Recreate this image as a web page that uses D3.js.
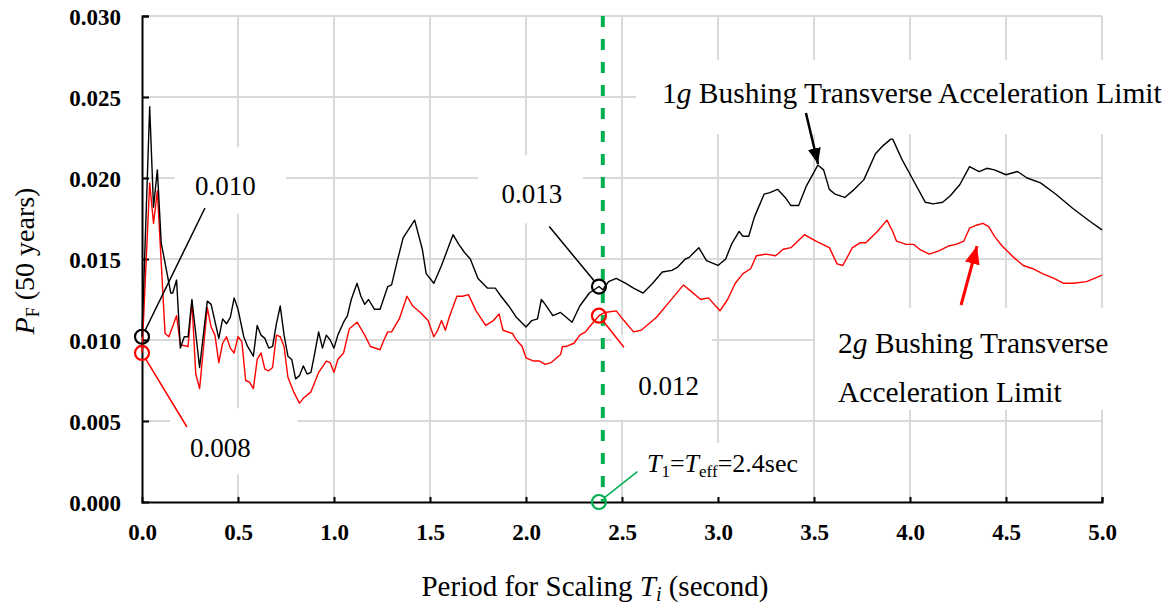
<!DOCTYPE html>
<html>
<head>
<meta charset="utf-8">
<script src="https://cdn.jsdelivr.net/npm/d3@7"></script>
<style>
  body { margin: 0; background: #fff; }
  svg { display: block; }
  svg text { font-family: "Liberation Serif", "Times New Roman", Times, "DejaVu Serif", serif !important; }
</style>
</head>
<body>
<svg id="chart" width="1169" height="610"></svg>
<script>
// Probability of failure in 50 years vs. scaling period, 1g bushing limit
const periods1g = [0.00,0.04,0.06,0.08,0.10,0.15,0.16,0.18,0.20,0.22,0.24,0.26,0.30,0.34,0.36,0.40,0.42,0.44,0.46,0.48,
  0.50,0.53,0.55,0.56,0.58,0.60,0.62,0.64,0.66,0.68,0.70,0.72,0.74,0.76,0.78,0.80,0.82,0.84,0.86,0.88,
  0.90,0.92,0.94,0.96,0.98,1.00,1.02,1.05,1.07,1.09,1.12,1.14,1.16,1.18,1.21,1.24,1.28,1.30,1.33,1.36,
  1.42,1.46,1.48,1.52,1.56,1.62,1.65,1.68,1.71,1.75,1.80,1.84,1.87,1.91,1.95,2.00,2.03,2.06,2.08,2.10,
  2.14,2.18,2.20,2.24,2.28,2.33,2.38,2.40,2.43,2.47,2.52,2.56,2.61,2.66,2.71,2.76,2.79,2.83,2.85,2.90,
  2.94,3.00,3.04,3.07,3.11,3.13,3.16,3.19,3.24,3.27,3.31,3.35,3.38,3.42,3.46,3.52,3.55,3.58,3.61,3.66,
  3.71,3.76,3.82,3.86,3.90,3.91,3.96,4.02,4.08,4.12,4.17,4.21,4.26,4.31,4.36,4.40,4.44,4.50,4.56,4.61,
  4.68,4.76,4.85,4.94,5.00];
const pf1g = [0.0102,0.0244,0.0182,0.0205,0.0160,0.0129,0.0129,0.0137,0.0095,0.0102,0.0102,0.0125,0.0083,0.0124,0.0122,0.0101,0.0113,0.0110,0.0114,0.0126,
  0.0119,0.0102,0.0096,0.0094,0.0090,0.0109,0.0103,0.0101,0.0095,0.0096,0.0110,0.0121,0.0103,0.0090,0.0088,0.0076,0.0078,0.0084,0.0079,0.0080,
  0.0092,0.0105,0.0095,0.0103,0.0100,0.0095,0.0103,0.0111,0.0115,0.0125,0.0135,0.0127,0.0122,0.0125,0.0119,0.0119,0.0133,0.0134,0.0149,0.0163,
  0.0174,0.0156,0.0141,0.0135,0.0146,0.0165,0.0159,0.0154,0.0150,0.0138,0.0132,0.0132,0.0127,0.0121,0.0114,0.0108,0.0112,0.0113,0.0125,0.0122,
  0.0115,0.0117,0.0115,0.0111,0.0121,0.0129,0.0133,0.0131,0.0136,0.0138,0.0135,0.0132,0.0129,0.0135,0.0142,0.0143,0.0145,0.0150,0.0151,0.0157,
  0.0149,0.0146,0.0150,0.0159,0.0167,0.0164,0.0164,0.0176,0.0190,0.0191,0.0193,0.0188,0.0183,0.0183,0.0195,0.0208,0.0205,0.0193,0.0190,0.0188,
  0.0193,0.0199,0.0215,0.0220,0.0224,0.0224,0.0211,0.0198,0.0185,0.0184,0.0185,0.0189,0.0196,0.0207,0.0204,0.0206,0.0205,0.0202,0.0204,0.0200,
  0.0197,0.0190,0.0181,0.0173,0.0168];

// Same quantity for the 2g bushing limit
const periods2g = [0.00,0.04,0.06,0.08,0.12,0.14,0.18,0.20,0.24,0.26,0.28,0.30,0.34,0.36,0.38,0.40,0.42,0.44,0.46,0.48,
  0.50,0.52,0.54,0.56,0.58,0.60,0.62,0.64,0.66,0.68,0.70,0.72,0.74,0.76,0.79,0.82,0.84,0.88,0.92,0.96,
  0.98,1.00,1.02,1.05,1.08,1.12,1.16,1.19,1.24,1.26,1.28,1.30,1.34,1.38,1.41,1.45,1.49,1.52,1.54,1.56,
  1.58,1.60,1.64,1.67,1.70,1.74,1.79,1.83,1.86,1.88,1.93,1.95,1.98,2.00,2.04,2.07,2.10,2.13,2.18,2.19,
  2.21,2.25,2.28,2.31,2.33,2.38,2.41,2.47,2.51,2.56,2.60,2.68,2.75,2.82,2.86,2.91,2.95,3.01,3.05,3.09,
  3.13,3.17,3.20,3.25,3.30,3.34,3.38,3.45,3.51,3.58,3.62,3.65,3.70,3.74,3.77,3.83,3.88,3.91,3.93,3.98,
  4.02,4.05,4.10,4.15,4.20,4.24,4.28,4.31,4.35,4.38,4.41,4.44,4.48,4.54,4.59,4.64,4.69,4.75,4.80,4.85,
  4.92,5.00];
const pf2g = [0.0092,0.0197,0.0172,0.0192,0.0104,0.0102,0.0115,0.0097,0.0096,0.0124,0.0079,0.0070,0.0120,0.0108,0.0103,0.0086,0.0098,0.0102,0.0095,0.0092,
  0.0102,0.0099,0.0075,0.0074,0.0070,0.0088,0.0092,0.0082,0.0081,0.0083,0.0103,0.0102,0.0096,0.0077,0.0068,0.0061,0.0064,0.0068,0.0080,0.0087,
  0.0086,0.0080,0.0088,0.0092,0.0107,0.0111,0.0103,0.0096,0.0094,0.0100,0.0105,0.0105,0.0113,0.0127,0.0121,0.0117,0.0112,0.0102,0.0106,0.0112,
  0.0106,0.0114,0.0127,0.0127,0.0128,0.0118,0.0109,0.0112,0.0116,0.0106,0.0104,0.0100,0.0096,0.0089,0.0087,0.0087,0.0085,0.0086,0.0091,0.0096,
  0.0096,0.0098,0.0103,0.0105,0.0108,0.0115,0.0117,0.0118,0.0112,0.0105,0.0106,0.0114,0.0124,0.0134,0.0130,0.0125,0.0126,0.0118,0.0125,0.0135,
  0.0141,0.0144,0.0152,0.0153,0.0152,0.0156,0.0157,0.0165,0.0161,0.0157,0.0147,0.0146,0.0157,0.0160,0.0160,0.0167,0.0174,0.0167,0.0161,0.0159,
  0.0159,0.0156,0.0153,0.0155,0.0158,0.0159,0.0161,0.0169,0.0171,0.0172,0.0170,0.0164,0.0158,0.0151,0.0146,0.0144,0.0141,0.0138,0.0135,0.0135,
  0.0136,0.0140];

const xTicks = [0, 0.5, 1.0, 1.5, 2.0, 2.5, 3.0, 3.5, 4.0, 4.5, 5.0];
const yTicks = [0, 0.005, 0.010, 0.015, 0.020, 0.025, 0.030];

const effectivePeriod = 2.4;      // T1 = Teff
const markedPeriod = 2.38;        // data point circled near Teff

const SERIF = "'Liberation Serif', 'Times New Roman', Times, 'DejaVu Serif', serif";

const svg = d3.select("#chart").attr("font-family", SERIF);
const x = d3.scaleLinear().domain([0, 5]).range([142, 1102]);
const y = d3.scaleLinear().domain([0, 0.03]).range([502, 16]);

const GRID = "#d9d9d9";

// gridlines
const grid = svg.append("g");
grid.selectAll(".gx").data(xTicks.slice(1)).join("line")
  .attr("x1", d => x(d)).attr("x2", d => x(d))
  .attr("y1", y(0.03)).attr("y2", y(0))
  .attr("stroke", GRID).attr("stroke-width", 2);
grid.selectAll(".gy").data(yTicks.slice(1)).join("line")
  .attr("x1", x(0)).attr("x2", x(5))
  .attr("y1", d => y(d)).attr("y2", d => y(d))
  .attr("stroke", GRID).attr("stroke-width", 2);

// text boxes with white fill that sit over the grid
function box(x0, x1, yTop, yBot) {
  svg.append("rect")
    .attr("x", x(x0)).attr("y", y(yTop))
    .attr("width", x(x1) - x(x0)).attr("height", y(yBot) - y(yTop))
    .attr("fill", "#fff");
}
box(0.17, 0.75, 0.0219, 0.0178);     // 0.010
box(0.146, 0.81, 0.0058, 0.0017);    // 0.008
box(1.75, 2.297, 0.0214, 0.0172);    // 0.013
box(2.448, 2.969, 0.0103, 0.0051);   // 0.012
box(2.573, 5.35, 0.0273, 0.0227);    // 1g label
box(3.505, 5.094, 0.0120, 0.0057);   // 2g label
box(2.594, 3.479, 0.00364, 0.0003);  // T1 label

// axes
const yAxis = d3.axisLeft(y).tickValues(yTicks).tickFormat(d3.format(".3f"))
  .tickSize(-7).tickPadding(21);
const xAxis = d3.axisBottom(x).tickValues(xTicks).tickFormat(d3.format(".1f"))
  .tickSize(-5).tickPadding(22);

const gy = svg.append("g").attr("transform", `translate(${x(0)},0)`).call(yAxis);
const gx = svg.append("g").attr("transform", `translate(0,${y(0)})`).call(xAxis);
[gx, gy].forEach(g => {
  g.attr("font-family", SERIF).attr("font-size", 23);
  g.select(".domain").attr("stroke", "#000").attr("stroke-width", 2);
  g.selectAll(".tick line").attr("stroke", "#000").attr("stroke-width", 2);
  g.selectAll(".tick text")
    .attr("font-family", SERIF)
    .attr("font-size", 23).attr("font-weight", "bold").attr("fill", "#000");
});
gy.selectAll(".tick text").attr("dy", "0.38em");
gx.selectAll(".tick").filter(d => d === 0).select("line").remove();
gy.selectAll(".tick").filter(d => d === 0).select("line").remove();

// series
const line = d3.line().x(d => x(d[0])).y(d => y(d[1]));
const s1 = periods1g.map((p, i) => [p, pf1g[i]]);
const s2 = periods2g.map((p, i) => [p, pf2g[i]]);
svg.append("path").datum(s2).attr("d", line)
  .attr("fill", "none").attr("stroke", "#ff0000").attr("stroke-width", 1.4)
  .attr("stroke-linejoin", "round");
svg.append("path").datum(s1).attr("d", line)
  .attr("fill", "none").attr("stroke", "#000").attr("stroke-width", 1.4)
  .attr("stroke-linejoin", "round");

// Teff reference line
svg.append("line")
  .attr("x1", x(effectivePeriod)).attr("x2", x(effectivePeriod))
  .attr("y1", y(0.03)).attr("y2", y(0))
  .attr("stroke", "#00b050").attr("stroke-width", 4)
  .attr("stroke-dasharray", "11,12");

// circled points
const R = 7;
function valueAt(periods, vals, p) { return vals[periods.indexOf(p)]; }
const circled = [
  { p: 0, v: valueAt(periods1g, pf1g, 0), color: "#000" },
  { p: 0, v: valueAt(periods2g, pf2g, 0), color: "#ff0000" },
  { p: markedPeriod, v: valueAt(periods1g, pf1g, markedPeriod), color: "#000" },
  { p: markedPeriod, v: valueAt(periods2g, pf2g, markedPeriod), color: "#ff0000" },
  { p: markedPeriod, v: 0, color: "#00b050" }
];

// leader lines from circle edge to label
function leader(c, tx, ty, color) {
  const cx = x(c.p), cy = y(c.v), ex = x(tx), ey = y(ty);
  const len = Math.hypot(ex - cx, ey - cy);
  svg.append("line")
    .attr("x1", cx + (ex - cx) / len * R).attr("y1", cy + (ey - cy) / len * R)
    .attr("x2", ex).attr("y2", ey)
    .attr("stroke", color).attr("stroke-width", 1.5);
}
leader(circled[0], 0.328, 0.01815, "#000");
leader(circled[1], 0.234, 0.00463, "#ff0000");
leader(circled[2], 2.121, 0.0170, "#000");
leader(circled[3], 2.51, 0.00955, "#ff0000");
leader(circled[4], 2.58, 0.00187, "#00b050");

svg.selectAll(".mark").data(circled).join("circle")
  .attr("cx", d => x(d.p)).attr("cy", d => y(d.v)).attr("r", R)
  .attr("fill", "none").attr("stroke", d => d.color).attr("stroke-width", 2.2);

// value labels
function label(txt, px, py, size) {
  return svg.append("text").attr("x", x(px)).attr("y", y(py))
    .attr("font-family", SERIF)
    .attr("font-size", size).attr("fill", "#000").text(txt);
}
label("0.010", 0.276, 0.01895, 27);
label("0.008", 0.25, 0.0028, 27);
label("0.013", 1.873, 0.01844, 27);
label("0.012", 2.585, 0.0066, 27);

// 1g label
const t1 = svg.append("text").attr("x", x(2.708)).attr("y", y(0.02461))
  .attr("font-family", SERIF).attr("font-size", 29.5).attr("fill", "#000");
t1.append("tspan").text("1");
t1.append("tspan").attr("font-style", "italic").text("g");
t1.append("tspan").text(" Bushing Transverse Acceleration Limit");

// 2g label
const t2 = svg.append("text").attr("x", x(3.625)).attr("y", y(0.0092))
  .attr("font-family", SERIF).attr("font-size", 29.5).attr("fill", "#000");
t2.append("tspan").text("2");
t2.append("tspan").attr("font-style", "italic").text("g");
t2.append("tspan").text(" Bushing Transverse");
svg.append("text").attr("x", x(3.625)).attr("y", y(0.00617))
  .attr("font-family", SERIF).attr("font-size", 29.5).attr("fill", "#000").text("Acceleration Limit");

// T1 = Teff label
const t3 = svg.append("text").attr("x", x(2.63)).attr("y", y(0.00187))
  .attr("font-family", SERIF).attr("font-size", 26).attr("fill", "#000");
t3.append("tspan").attr("font-style", "italic").text("T");
t3.append("tspan").attr("font-size", 17).attr("dy", 5).text("1");
t3.append("tspan").attr("dy", -5).text("=");
t3.append("tspan").attr("font-style", "italic").text("T");
t3.append("tspan").attr("font-size", 17).attr("dy", 5).text("eff");
t3.append("tspan").attr("dy", -5).text("=2.4sec");

// arrows
const defs = svg.append("defs");
function marker(id, color, w, h) {
  defs.append("marker").attr("id", id)
    .attr("viewBox", `0 0 ${w} ${h}`).attr("refX", w).attr("refY", h / 2)
    .attr("markerWidth", w).attr("markerHeight", h)
    .attr("markerUnits", "userSpaceOnUse").attr("orient", "auto")
    .append("path").attr("d", `M0,0L${w},${h / 2}L0,${h}Z`).attr("fill", color);
}
marker("headBlack", "#000", 16, 13);
marker("headRed", "#ff0000", 18, 15);
svg.append("line")
  .attr("x1", x(3.458)).attr("y1", y(0.02401))
  .attr("x2", x(3.521)).attr("y2", y(0.02086))
  .attr("stroke", "#000").attr("stroke-width", 2.5)
  .attr("marker-end", "url(#headBlack)");
svg.append("line")
  .attr("x1", x(4.266)).attr("y1", y(0.01216))
  .attr("x2", x(4.349)).attr("y2", y(0.0158))
  .attr("stroke", "#ff0000").attr("stroke-width", 3)
  .attr("marker-end", "url(#headRed)");

// axis titles
const xt = svg.append("text").attr("x", 595).attr("y", 596)
  .attr("font-family", SERIF)
  .attr("text-anchor", "middle").attr("font-size", 29).attr("fill", "#000");
xt.append("tspan").text("Period for Scaling ");
xt.append("tspan").attr("font-style", "italic").text("T");
xt.append("tspan").attr("font-style", "italic").attr("font-size", 20).attr("dy", 5).text("i");
xt.append("tspan").attr("dy", -5).text(" (second)");

const ytl = svg.append("text").attr("transform", "translate(34,261) rotate(-90)")
  .attr("font-family", SERIF)
  .attr("text-anchor", "middle").attr("font-size", 28).attr("fill", "#000");
ytl.append("tspan").attr("font-style", "italic").text("P");
ytl.append("tspan").attr("font-size", 18).attr("dy", 5).text("F");
ytl.append("tspan").attr("dy", -5).text(" (50 years)");
</script>
</body>
</html>
